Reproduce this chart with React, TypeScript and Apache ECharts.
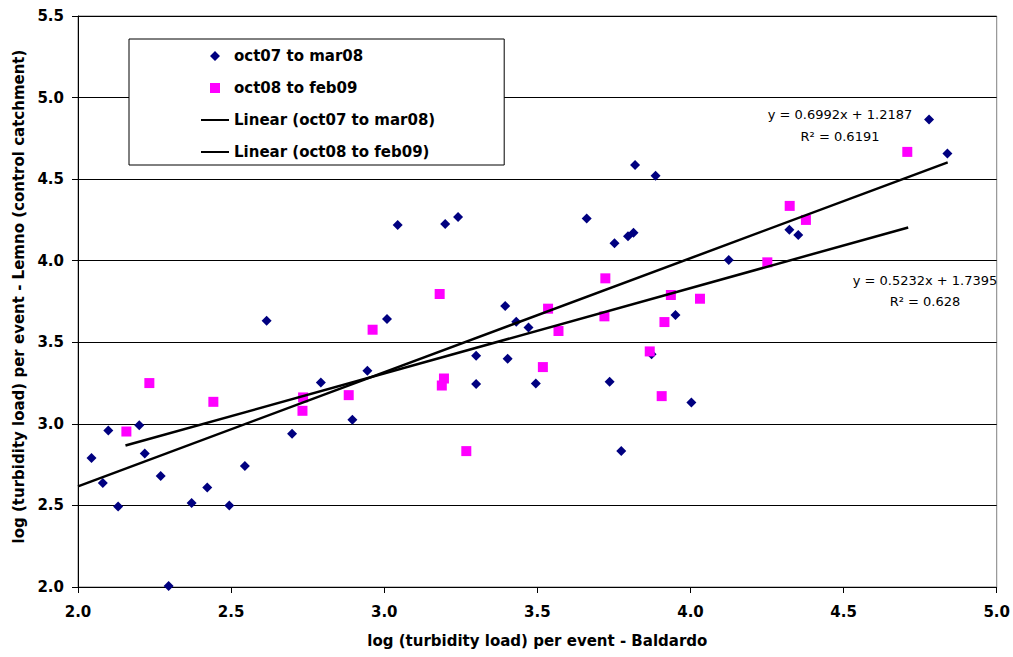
import React, { useEffect, useRef } from "react";
import * as echarts from "echarts";

// oct07 to mar08 observations [log load Baldardo, log load Lemno]
const octMar08: number[][] = [
  [2.044, 2.79], [2.081, 2.638], [2.099, 2.96], [2.131, 2.493], [2.2, 2.992],
  [2.218, 2.818], [2.27, 2.681], [2.296, 2.006], [2.371, 2.515], [2.422, 2.61],
  [2.494, 2.5], [2.545, 2.742], [2.616, 3.632], [2.699, 2.939], [2.793, 3.254],
  [2.896, 3.025], [2.945, 3.325], [3.009, 3.642], [3.044, 4.219], [3.199, 4.225],
  [3.241, 4.268], [3.3, 3.417], [3.3, 3.244], [3.395, 3.722], [3.403, 3.399],
  [3.431, 3.626], [3.471, 3.591], [3.495, 3.248], [3.661, 4.258], [3.736, 3.258],
  [3.752, 4.107], [3.774, 2.833], [3.796, 4.15], [3.814, 4.172], [3.819, 4.587],
  [3.873, 3.426], [3.886, 4.521], [3.951, 3.667], [4.003, 3.131], [4.125, 4.004],
  [4.323, 4.19], [4.352, 4.158], [4.779, 4.865], [4.839, 4.657],
];

// oct08 to feb09 observations
const octFeb09: number[][] = [
  [2.158, 2.953], [2.233, 3.25], [2.442, 3.135], [2.733, 3.08], [2.735, 3.162],
  [2.884, 3.176], [2.962, 3.577], [3.181, 3.796], [3.188, 3.235], [3.195, 3.278],
  [3.268, 2.833], [3.518, 3.348], [3.535, 3.706], [3.569, 3.569], [3.719, 3.659],
  [3.722, 3.892], [3.867, 3.444], [3.906, 3.17], [3.915, 3.624], [3.936, 3.79],
  [4.031, 3.767], [4.251, 3.99], [4.324, 4.336], [4.377, 4.25], [4.708, 4.667],
];

// trend line end points
const trendOctMar08: number[][] = [[2.0, 2.617], [4.84, 4.603]];
const trendOctFeb09: number[][] = [[2.155, 2.867], [4.711, 4.204]];

const seriesNames = [
  "oct07 to mar08",
  "oct08 to feb09",
  "Linear (oct07 to mar08)",
  "Linear (oct08 to feb09)",
];
const equationTexts = [
  ["y = 0.6992x + 1.2187", "R² = 0.6191"],
  ["y = 0.5232x + 1.7395", "R² = 0.628"],
];
const xAxisTitle = "log (turbidity load) per event - Baldardo";
const yAxisTitle = "log (turbidity load) per event - Lemno (control catchment)";

const FONT = '"DejaVu Sans", "Liberation Sans", Arial, sans-serif';

// legend icons: a 10px marker centred in a 28x10 box
const DIAMOND_ICON = "path://M0,5L0.01,5L0,5.01ZM14,0L19,5L14,10L9,5ZM28,5L27.99,5L28,4.99Z";
const SQUARE_ICON = "path://M0,5L0.01,5L0,5.01ZM9,0L19,0L19,10L9,10ZM28,5L27.99,5L28,4.99Z";

export default function App() {
  const ref = useRef<HTMLDivElement>(null);
  useEffect(() => {
    if (!ref.current) return;
    const chart = echarts.init(ref.current, null, { renderer: "svg" });
    const tickLabel = {
      fontFamily: FONT,
      fontWeight: "bold" as const,
      fontSize: 15,
      color: "#000",
      formatter: (v: number) => v.toFixed(1),
    };
    const eqText = (text: string, x: number, y: number) => ({
      type: "text",
      x,
      y,
      style: {
        text,
        fontFamily: FONT,
        fontSize: 13,
        fill: "#000",
        align: "center",
        verticalAlign: "middle",
      },
    });
    chart.setOption({
      animation: false,
      backgroundColor: "#fff",
      textStyle: { fontFamily: FONT },
      grid: {
        left: 78,
        right: 14,
        top: 16,
        bottom: 70,
        show: true,
        borderColor: "#808080",
        borderWidth: 1,
        backgroundColor: "transparent",
      },
      legend: {
        orient: "vertical",
        left: 129,
        top: 39,
        symbolKeepAspect: true,
        data: [
          { name: seriesNames[0], icon: DIAMOND_ICON },
          { name: seriesNames[1], icon: SQUARE_ICON },
          { name: seriesNames[2], itemStyle: { opacity: 0 } },
          { name: seriesNames[3], itemStyle: { opacity: 0 } },
        ],
        itemWidth: 28,
        itemHeight: 10,
        itemGap: 14,
        padding: [8, 69, 4, 71],
        backgroundColor: "#fff",
        borderColor: "#000",
        borderWidth: 1,
        textStyle: {
          fontFamily: FONT,
          fontWeight: "bold",
          fontSize: 15,
          lineHeight: 18,
          color: "#000",
        },
      },
      xAxis: {
        type: "value",
        min: 2,
        max: 5,
        interval: 0.5,
        name: xAxisTitle,
        nameLocation: "middle",
        nameGap: 46,
        nameTextStyle: {
          fontFamily: FONT,
          fontWeight: "bold",
          fontSize: 15,
          color: "#000",
        },
        axisLine: { show: true, onZero: false, lineStyle: { color: "#000", width: 1 } },
        axisTick: { show: true, length: 6, lineStyle: { color: "#000" } },
        axisLabel: { ...tickLabel, margin: 17 },
        splitLine: { show: false },
      },
      yAxis: {
        type: "value",
        min: 2,
        max: 5.5,
        interval: 0.5,
        name: yAxisTitle,
        nameLocation: "middle",
        nameGap: 48,
        nameTextStyle: {
          fontFamily: FONT,
          fontWeight: "bold",
          fontSize: 15,
          color: "#000",
          padding: [0, 0, 0, 10],
        },
        axisLine: { show: true, onZero: false, lineStyle: { color: "#000", width: 1 } },
        axisTick: { show: true, length: 6, lineStyle: { color: "#000" } },
        axisLabel: { ...tickLabel, margin: 14 },
        splitLine: { show: true, lineStyle: { color: "#000", width: 1 } },
      },
      series: [
        {
          name: seriesNames[0],
          type: "scatter",
          symbol: "diamond",
          symbolSize: 10,
          itemStyle: { color: "#000080", opacity: 1 },
          data: octMar08,
          z: 3,
        },
        {
          name: seriesNames[1],
          type: "scatter",
          symbol: "rect",
          symbolSize: 10,
          itemStyle: { color: "#FF00FF", opacity: 1 },
          data: octFeb09,
          z: 3,
        },
        {
          name: seriesNames[2],
          type: "line",
          symbol: "none",
          lineStyle: { color: "#000", width: 2.5 },
          itemStyle: { color: "#000" },
          data: trendOctMar08,
          z: 4,
        },
        {
          name: seriesNames[3],
          type: "line",
          symbol: "none",
          lineStyle: { color: "#000", width: 2.5 },
          itemStyle: { color: "#000" },
          data: trendOctFeb09,
          z: 4,
        },
      ],
      graphic: [
        eqText(equationTexts[0][0], 840, 114),
        eqText(equationTexts[0][1], 840, 136),
        eqText(equationTexts[1][0], 925, 280),
        eqText(equationTexts[1][1], 925, 301),
      ],
    });
    return () => chart.dispose();
  }, []);
  return (
    <div
      ref={ref}
      style={{ position: "fixed", left: 0, top: 0, width: 1013, height: 657, background: "#fff" }}
    />
  );
}
